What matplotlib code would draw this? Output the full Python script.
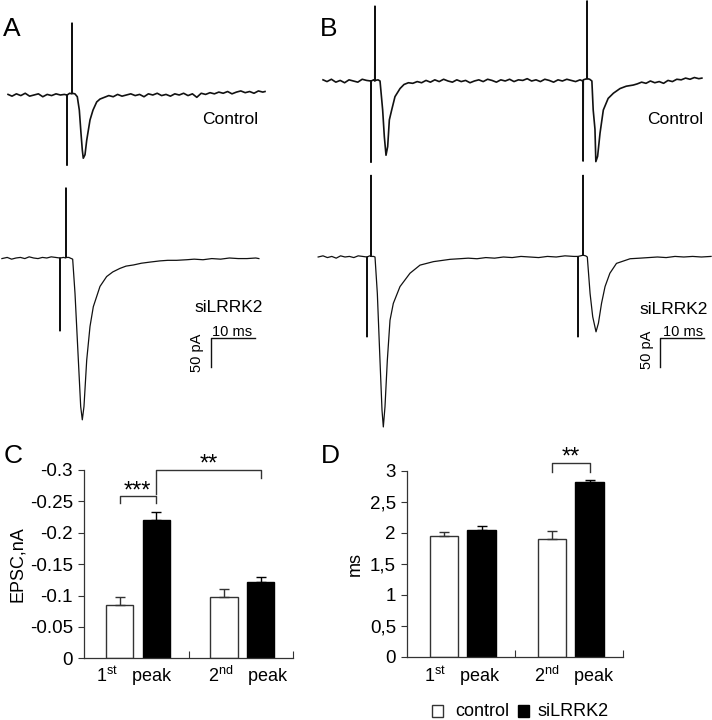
import matplotlib.pyplot as plt
from matplotlib.patches import Rectangle

plt.rcParams['font.family'] = ['Liberation Sans', 'DejaVu Sans']
plt.rcParams['axes.unicode_minus'] = False
plt.rcParams['mathtext.fontset'] = 'custom'
plt.rcParams['mathtext.rm'] = 'Liberation Sans'

# ---- recorded traces (time in ms from first stimulus, current in pA) ----
a_ctl_t = [-13.4, -12.5, -11.5, -10.5, -9.5, -8.5, -7.5, -6.5, -5.5, -4.5, -3.5, -2.5, -1.5, -0.6, -0.04,
           0.0, 0.04, 0.6, 1.1, 1.14, 1.18, 1.8, 2.34, 2.8, 3.18, 3.48, 3.7, 4.09, 4.48, 5.23, 5.91, 6.75, 7.5,
           8.5, 9.5, 10.5, 11.5, 12.5, 13.5, 14.5, 15.5, 16.5, 17.5, 18.5, 19.5, 20.5, 21.5, 22.5, 23.5,
           24.5, 25.5, 26.5, 27.5, 28.5, 29.5, 30.5, 31.5, 32.5, 33.5, 34.5, 35.5, 36.5, 37.5, 38.5, 39.5,
           40.5, 41.5, 42.5, 43.5, 44.5, 45.0]
a_ctl_i = [1, -2, 2, -1, 3, -2, 0, 2, -3, 1, -1, 2, 0, 1, 0,
           -121, 0, 3, 2, 124, 3, 2, -3, -26, -66, -95, -109, -103, -78, -43, -26, -12, -7,
           -4, -1, -3, 1, -2, 0, 2, -1, 1, -3, 2, 0, 3, -1, 1, -2,
           2, 0, 3, -1, 2, -4, 3, 1, 4, 2, 5, 3, 6, 2, 5, 7,
           4, 6, 3, 7, 5, 6]

a_si_t = [-13.2, -12, -11, -10, -9, -8, -7, -6, -5, -4, -3, -2, -1, -0.04,
          0.0, 0.04, 0.8, 1.32, 1.36, 1.4, 2.0, 2.88, 3.41, 4.17, 4.7, 5.07, 5.45, 6.07, 6.82, 7.57,
          9.09, 10.6, 12.0, 13.6, 15.0, 16.7, 18.5, 20.5, 22.7, 24.5, 26.5, 28.8,
          30.5, 32.5, 34.5, 36.5, 38.5, 40.5, 42.5, 44.5, 45.2]
a_si_i = [-1, 1, -2, 0, 1, -1, 2, 0, -1, 1, 0, 2, 1, 0,
          -126, 0, 1, 0, 121, 1, 1, -2, -61, -176, -256, -279, -256, -176, -118, -84,
          -49, -32, -24, -18, -14, -12, -9, -7, -5, -4, -4, -3,
          -2, -3, -1, -2, 0, -1, -1, 0, -1]

b_ctl_t = [-10.9, -10, -9, -8, -7, -6, -5, -4, -3, -2, -1, -0.04,
           0.0, 0.04, 0.6, 0.86, 0.9, 0.94, 1.6,
           2.05, 2.65, 3.03, 3.41, 3.79, 4.17, 4.7, 5.45, 6.6,
           7.5, 8.5, 9.5, 10.5, 11.5, 12.5, 13.5, 14.5, 15.5, 16.5, 17.5, 18.5, 19.5, 20.5,
           21.5, 22.5, 23.5, 24.5, 25.5, 26.5, 27.5, 28.5, 29.5, 30.5, 31.5, 32.5, 33.5, 34.5,
           35.5, 36.5, 37.5, 38.5, 39.5, 40.5, 41.5, 42.5, 43.5, 44.5, 45.5, 46.5, 47.5,
           48.16, 48.2, 48.24, 49.06, 49.1, 49.14, 49.7,
           50.2, 50.5, 50.9, 51.1, 51.5, 52.05, 52.8, 53.9, 55.1, 56.6, 58.0, 59.6,
           60.5, 61.5, 62.5, 63.5, 64.5, 65.5, 66.5, 67.5, 68.5, 69.5, 70.5, 71.5, 72.5, 73.5, 74.5, 75.2]
b_ctl_i = [2, -1, 3, -2, 1, -3, 2, 0, -2, 3, 1, 0,
           -140, 0, 2, 0, 129, 1, 2,
           0, -50, -96, -128, -113, -67, -50, -27, -13,
           -6, -3, -4, -1, -3, 1, -2, 2, -1, 3, 0, -2, 2, -1,
           1, -3, 0, 2, -1, 3, 1, -2, 2, 0, 3, -1, 2, 1,
           4, 0, 2, -1, 3, 1, -2, 2, 0, 3, 1, -1, 2,
           0, -138, 2, 4, 138, 4, 3,
           0, -50, -83, -139, -130, -90, -50, -30, -21, -13, -9, -7,
           -5, -2, -4, 0, -3, -1, -4, 1, -1, 3, 2, 5, 3, 6, 4, 5]

b_si_t = [-11.1, -10, -9, -8, -7, -6, -5, -4, -3, -2, -1, -0.04,
          0.0, 0.04, 0.6, 0.87, 0.91, 0.95, 1.5,
          1.82, 2.35, 2.95, 3.41, 3.71, 4.09, 4.62, 5.23, 5.98, 7.5, 9.77, 12.05, 15.1, 18.9,
          21, 23, 25, 27, 29, 31, 33, 35, 37, 39, 41, 43, 45, 47,
          47.91, 47.95, 47.99, 49.06, 49.1, 49.14, 49.7,
          50.07, 50.7, 51.3, 52.05, 52.6, 53.3, 54.1, 55.2, 56.7, 59.8,
          62, 64, 66, 68, 70, 72, 74, 76, 78.2]
b_si_i = [0, 2, -1, 1, -2, 2, 0, 1, -1, 2, 1, 0,
          -138, 0, 2, 1, 141, 1, 1,
          0, -63, -178, -264, -293, -258, -178, -109, -80, -51, -28, -14, -8, -4,
          -3, -2, -3, -1, -2, 0, -1, 1, 0, -1, 1, 0, 2, 1,
          1, -138, 1, 3, 141, 3, 2,
          0, -63, -103, -129, -114, -80, -51, -28, -11, -3,
          -2, -1, 0, -1, 1, 0, 1, 0, 1]

# ---- bar chart data ----
peaks = ['1$^{\\rm st}$   peak', '2$^{\\rm nd}$   peak']
groups = ['control', 'siLRRK2']
epsc_ctl = [-0.085, -0.097]
epsc_ctl_err = [0.013, 0.013]
epsc_si = [-0.221, -0.122]
epsc_si_err = [0.012, 0.008]
tau_ctl = [1.95, 1.90]
tau_ctl_err = [0.06, 0.13]
tau_si = [2.05, 2.81]
tau_si_err = [0.065, 0.04]
epsc_ticks = [0, -0.05, -0.1, -0.15, -0.2, -0.25, -0.3]
epsc_labels = ['0', '-0.05', '-0.1', '-0.15', '-0.2', '-0.25', '-0.3']
tau_ticks = [0, 0.5, 1, 1.5, 2, 2.5, 3]
tau_labels = ['0', '0,5', '1', '1,5', '2', '2,5', '3']

W, H = 712, 720
PX_MS = 4.4
PX_PA = 0.58
EDGE = '#333333'

fig = plt.figure(figsize=(W / 100, H / 100), dpi=100)


def px_rect(left, top, right, bottom):
    return [left / W, 1 - bottom / H, (right - left) / W, (bottom - top) / H]


def ftext(x, y, s, **kw):
    fig.text(x / W, 1 - y / H, s, **kw)


def trace_axes(x0, y0, t, i, lw, tlim=(-16, 82), ilim=(-330, 260)):
    # x0, y0: pixel position of stimulus time and of baseline
    left = x0 + tlim[0] * PX_MS
    right = x0 + tlim[1] * PX_MS
    top = y0 - ilim[1] * PX_PA
    bottom = y0 - ilim[0] * PX_PA
    ax = fig.add_axes(px_rect(left, top, right, bottom))
    ax.set_xlim(tlim)
    ax.set_ylim(ilim)
    ax.axis('off')
    ax.plot(t, i, color='#111111', lw=lw, clip_on=False, solid_joinstyle='round')
    return ax


def scale_bar(ax, t0, i0):
    ax.plot([t0, t0, t0 + 10], [i0 - 50, i0, i0], color='#111111', lw=1, clip_on=False)


trace_axes(67, 95, a_ctl_t, a_ctl_i, 1.2)
ax = trace_axes(60, 258, a_si_t, a_si_i, 0.9)
scale_bar(ax, 34.3, -138)
trace_axes(371, 81, b_ctl_t, b_ctl_i, 1.2)
ax = trace_axes(367, 257, b_si_t, b_si_i, 0.9)
scale_bar(ax, 66.6, -140)

ftext(11.5, 29.5, 'A', fontsize=19, ha='center', va='center')
ftext(329, 29.5, 'B', fontsize=19, ha='center', va='center')
ftext(13, 456, 'C', fontsize=19, ha='center', va='center')
ftext(330, 456, 'D', fontsize=19, ha='center', va='center')
ftext(230, 120, 'Control', fontsize=12.5, ha='center', va='center')
ftext(675, 119, 'Control', fontsize=12.5, ha='center', va='center')
ftext(228.5, 308, 'siLRRK2', fontsize=12.5, ha='center', va='center')
ftext(674, 310, 'siLRRK2', fontsize=12.5, ha='center', va='center')
ftext(232.5, 332, '10 ms', fontsize=10.5, ha='center', va='center')
ftext(683, 332, '10 ms', fontsize=10.5, ha='center', va='center')
ftext(197, 353, '50 pA', fontsize=10.5, ha='center', va='center', rotation=90)
ftext(647, 350, '50 pA', fontsize=10.5, ha='center', va='center', rotation=90)


def bar_panel(rect, ctl, ctl_err, si, si_err, ylim, ticks, labels, negative):
    ax = fig.add_axes(rect)
    pos_ctl = [0.34, 1.34]
    pos_si = [0.69, 1.69]
    ax.bar(pos_ctl, ctl, 0.26, color='white', edgecolor=EDGE, lw=1)
    ax.bar(pos_si, si, 0.26, color='black', edgecolor='black', lw=1)
    zeros = [0, 0]
    if negative:
        e_ctl, e_si = [ctl_err, zeros], [si_err, zeros]
    else:
        e_ctl, e_si = [zeros, ctl_err], [zeros, si_err]
    ax.errorbar(pos_ctl, ctl, yerr=e_ctl, fmt='none', ecolor=EDGE, elinewidth=1, capsize=3.5, capthick=1)
    ax.errorbar(pos_si, si, yerr=e_si, fmt='none', ecolor='black', elinewidth=1, capsize=3.5, capthick=1)
    ax.set_xlim(0, 2)
    ax.set_ylim(ylim)
    for s in ['top', 'right']:
        ax.spines[s].set_visible(False)
    for s in ['left', 'bottom']:
        ax.spines[s].set_color(EDGE)
        ax.spines[s].set_linewidth(0.9)
    ax.set_xticks([1, 2])
    ax.set_xticklabels([])
    ax.tick_params(axis='x', direction='in', length=5, color=EDGE)
    ax.set_yticks(ticks)
    ax.set_yticklabels(labels)
    ax.tick_params(axis='y', length=4, pad=4, labelsize=13.5, color=EDGE)
    return ax


axc = bar_panel(px_rect(84, 470, 293, 658.3), epsc_ctl, epsc_ctl_err, epsc_si, epsc_si_err,
                (0, -0.3), epsc_ticks, epsc_labels, True)
axc.set_ylabel('EPSC,nA', fontsize=13, labelpad=3)
axc.plot([0.34, 0.34, 0.69, 0.69], [-0.248, -0.259, -0.259, -0.248], color=EDGE, lw=1, clip_on=False)
axc.plot([0.69, 0.69, 1.69, 1.69], [-0.262, -0.300, -0.300, -0.288], color=EDGE, lw=1, clip_on=False)
axc.text(0.515, -0.266, '***', fontsize=17, ha='center', va='center')
axc.text(1.19, -0.308, '**', fontsize=17, ha='center', va='center')

axd = bar_panel(px_rect(407, 470.7, 623, 656.7), tau_ctl, tau_ctl_err, tau_si, tau_si_err,
                (0, 3), tau_ticks, tau_labels, False)
axd.set_ylabel('ms', fontsize=13, labelpad=4)
axd.plot([1.34, 1.34, 1.69, 1.69], [2.985, 3.13, 3.13, 2.985], color=EDGE, lw=1, clip_on=False)
axd.text(1.515, 3.22, '**', fontsize=17, ha='center', va='center')

ftext(134, 676, peaks[0], fontsize=13, ha='center', va='center')
ftext(248, 676, peaks[1], fontsize=13, ha='center', va='center')
ftext(462, 676, peaks[0], fontsize=13, ha='center', va='center')
ftext(574, 676, peaks[1], fontsize=13, ha='center', va='center')

# legend drawn by hand in figure pixels
fig.patches.append(Rectangle((432 / W, 1 - 717 / H), 11 / W, 12 / H, transform=fig.transFigure,
                             facecolor='white', edgecolor=EDGE, lw=1))
fig.patches.append(Rectangle((518 / W, 1 - 717 / H), 11 / W, 12 / H, transform=fig.transFigure,
                             facecolor='black', edgecolor='black', lw=1))
ftext(455, 711, groups[0], fontsize=13, ha='left', va='center')
ftext(537, 711, groups[1], fontsize=13, ha='left', va='center')

fig.savefig('out.png', dpi=100)
